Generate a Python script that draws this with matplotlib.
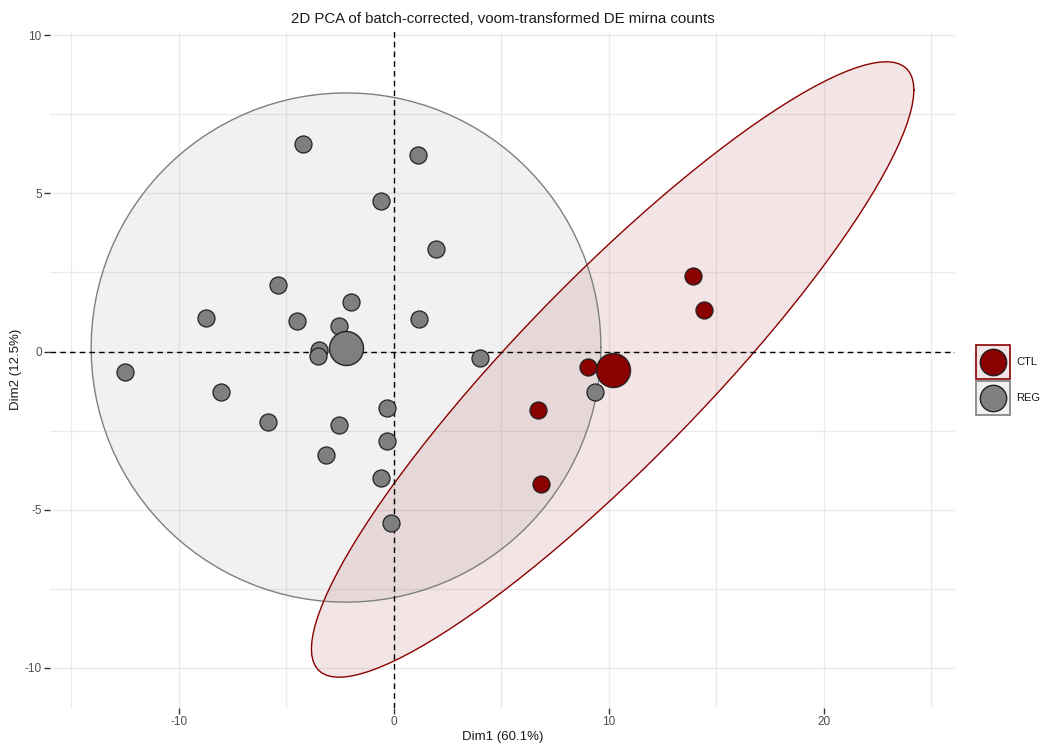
import numpy as np
import matplotlib
matplotlib.use('Agg')
import matplotlib.pyplot as plt
from matplotlib.patches import Rectangle

plt.rcParams['font.family'] = ['Liberation Sans', 'DejaVu Sans']
plt.rcParams['axes.unicode_minus'] = False

# PCA coordinates
reg_x = [-4.23, 1.12, -0.60, 1.95, -5.40, -2.00, -8.74, -4.51, 1.16, -2.56, -3.49, -3.53,
         -12.51, -8.05, 4.00, -0.33, -5.86, -2.56, -0.33, -3.16, -0.60, -0.14, 9.35]
reg_y = [6.56, 6.21, 4.76, 3.25, 2.11, 1.55, 1.07, 0.95, 1.04, 0.82, 0.06, -0.13,
         -0.66, -1.29, -0.22, -1.77, -2.24, -2.33, -2.84, -3.28, -4.00, -5.43, -1.29]
ctl_x = [13.91, 14.42, 9.02, 6.70, 6.84]
ctl_y = [2.40, 1.32, -0.50, -1.86, -4.20]

groups = ['CTL', 'REG']
colors = {'CTL': '#8B0000', 'REG': '#7f7f7f'}
data = {'CTL': (np.array(ctl_x), np.array(ctl_y)),
        'REG': (np.array(reg_x), np.array(reg_y))}


def norm_ellipse(x, y, level=0.95, segments=120):
    # same construction as ggplot2 stat_ellipse(type = "norm")
    pts = np.column_stack([x, y])
    center = pts.mean(axis=0)
    shape = np.cov(pts, rowvar=False)
    dfd = len(x) - 1
    fq = (dfd / 2.0) * ((1 - level) ** (-2.0 / dfd) - 1)  # qf(level, 2, dfd)
    radius = np.sqrt(2 * fq)
    chol = np.linalg.cholesky(shape).T
    ang = np.linspace(0, 2 * np.pi, segments + 1)
    circle = np.column_stack([np.cos(ang), np.sin(ang)])
    return center + radius * circle @ chol


fig = plt.figure(figsize=(10.43, 7.43), dpi=100)
ax = fig.add_axes([50 / 1043, 35 / 743, 905 / 1043, 677 / 743])

# ellipses (REG first, CTL on top)
for g in ['REG', 'CTL']:
    x, y = data[g]
    e = norm_ellipse(x, y)
    ax.fill(e[:, 0], e[:, 1], facecolor=colors[g], alpha=0.1, edgecolor='none', zorder=2)
    ax.plot(e[:, 0], e[:, 1], color=colors[g], lw=1.0, zorder=3)

ax.margins(0.05)

# individual points
for g in ['CTL', 'REG']:
    x, y = data[g]
    ax.scatter(x, y, s=150, color=colors[g], edgecolor='#222222', linewidth=0.9, zorder=4)

# group centroids
for g in ['CTL', 'REG']:
    x, y = data[g]
    ax.scatter([x.mean()], [y.mean()], s=600, color=colors[g], edgecolor='#222222',
               linewidth=1.0, zorder=5)

ax.axhline(0, color='black', ls=(0, (4, 3)), lw=1.0, zorder=3.5)
ax.axvline(0, color='black', ls=(0, (4, 3)), lw=1.0, zorder=3.5)

ax.set_xticks([-10, 0, 10, 20])
ax.set_yticks([-10, -5, 0, 5, 10])
ax.set_xticks([-15, -5, 5, 15, 25], minor=True)
ax.set_yticks([-7.5, -2.5, 2.5, 7.5], minor=True)
ax.grid(True, which='both', color='#ebebeb', lw=1.0, zorder=0)
ax.set_axisbelow(True)
for s in ax.spines.values():
    s.set_visible(False)
ax.tick_params(which='major', length=4, width=1, color='#333333', labelsize=8.5,
               labelcolor='#4d4d4d', pad=2)
ax.tick_params(which='minor', length=0)

ax.set_xlabel('Dim1 (60.1%)', fontsize=9.5, color='#1a1a1a', labelpad=2)
ax.set_ylabel('Dim2 (12.5%)', fontsize=9.5, color='#1a1a1a', labelpad=2)
ax.set_title('2D PCA of batch-corrected, voom-transformed DE mirna counts', fontsize=10.8,
             color='#1a1a1a', pad=6)

# legend drawn by hand in pixel coordinates
lax = fig.add_axes([0, 0, 1, 1], zorder=10)
lax.set_xlim(0, 1043)
lax.set_ylim(743, 0)
lax.axis('off')
key_top = 344
key_size = 36
for i, g in enumerate(groups):
    y0 = key_top + i * key_size
    lax.add_patch(Rectangle((976, y0 + 1), key_size - 2, key_size - 2, facecolor=colors[g],
                            alpha=0.1, edgecolor='none'))
    lax.add_patch(Rectangle((976, y0 + 1), key_size - 2, key_size - 2, facecolor='none',
                            edgecolor=colors[g], lw=1.2))
    lax.plot([976 + (key_size - 2) / 2], [y0 + key_size / 2], marker='o', markersize=19,
             color=colors[g], markeredgecolor='#222222', markeredgewidth=1.0)
    lax.text(1016, y0 + key_size / 2, g, fontsize=8, va='center', ha='left', color='#1a1a1a')

fig.savefig('out.png', dpi=100)
plt.close()
